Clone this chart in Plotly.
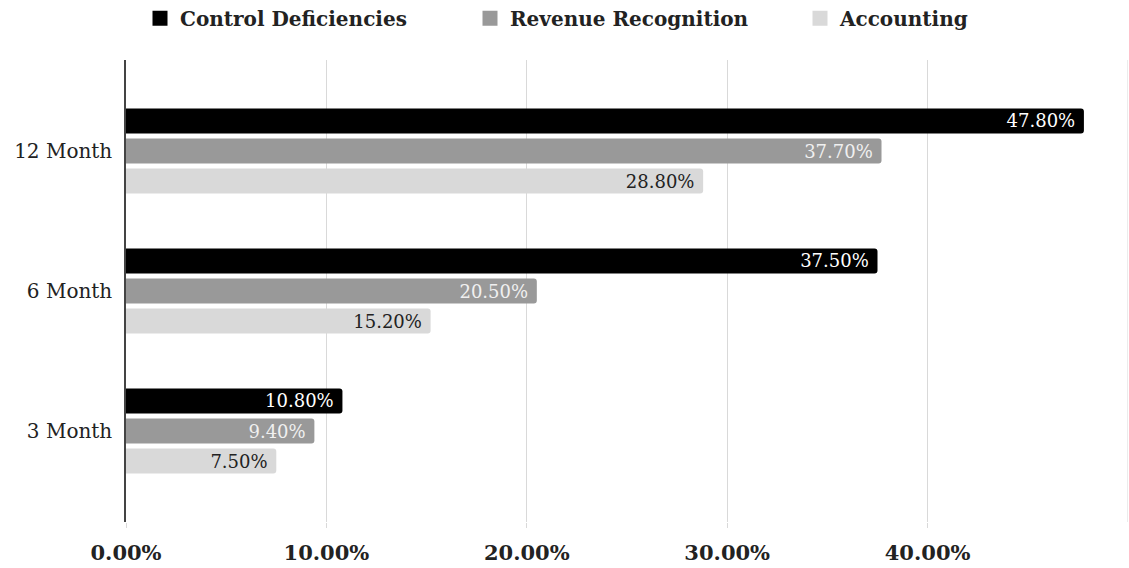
import plotly.graph_objects as go

categories = ["12 Month", "6 Month", "3 Month"]
control_deficiencies = [47.8, 37.5, 10.8]
revenue_recognition = [37.7, 20.5, 9.4]
accounting = [28.8, 15.2, 7.5]
x_ticks = [0, 10, 20, 30, 40]
x_tick_labels = ["0.00%", "10.00%", "20.00%", "30.00%", "40.00%"]

FONT = "DejaVu Serif"

series = [
    ("Control Deficiencies", control_deficiencies, "#000000", "#ffffff"),
    ("Revenue Recognition", revenue_recognition, "#999999", "#f0f0f0"),
    ("Accounting", accounting, "#d9d9d9", "#222222"),
]

fig = go.Figure()
for name, vals, color, tcolor in series:
    fig.add_trace(go.Bar(
        y=categories, x=vals, name=name, orientation="h", showlegend=False,
        marker=dict(color=color, line=dict(width=0), cornerradius=3),
        texttemplate="%{x:.2f}%\u00a0", textposition="inside", insidetextanchor="end",
        textfont=dict(family=FONT, size=18, color=tcolor),
        constraintext="none", cliponaxis=False, hoverinfo="skip",
    ))
# legend entries with larger square swatches
for name, vals, color, tcolor in series:
    fig.add_trace(go.Scatter(
        x=[None], y=[None], mode="markers", name=name,
        marker=dict(symbol="square", size=15, color=color),
    ))

fig.update_layout(
    width=1129, height=568,
    margin=dict(l=126, r=1, t=60, b=46, autoexpand=False),
    paper_bgcolor="white", plot_bgcolor="white",
    barmode="group", bargap=0.357, bargroupgap=0.167,
    uniformtext=dict(minsize=14, mode="show"),
    font=dict(family=FONT, color="#222222"),
    legend=dict(
        orientation="h", x=140 / 1129, xanchor="left", xref="container",
        y=0.968, yanchor="middle", yref="container",
        font=dict(family=FONT, size=20, color="#222222", weight="bold"),
        itemsizing="trace", entrywidth=285,
    ),
    showlegend=True,
)
fig.update_xaxes(
    range=[0, 50], tickvals=x_ticks, ticktext=x_tick_labels,
    showgrid=True, gridcolor="#d9d9d9", gridwidth=1,
    zeroline=False, showline=False, automargin=False,
    ticks="outside", ticklen=5, tickcolor="#d9d9d9", ticklabelstandoff=7,
    tickfont=dict(family=FONT, size=21, color="#222222", weight="bold"),
)
fig.update_yaxes(
    range=[2.65, -0.65], showgrid=False, zeroline=False, automargin=False,
    showline=True, linecolor="#444444", linewidth=1.5,
    ticks="", ticklabelstandoff=8,
    tickfont=dict(family=FONT, size=20, color="#222222"),
)
# extra gridline at 50%
fig.add_shape(type="line", xref="x", yref="paper", x0=50, x1=50, y0=0, y1=1,
              line=dict(color="#d9d9d9", width=1))

fig.write_html("out.html", config={"displayModeBar": False},
               post_script="document.body.style.margin='0px';")
